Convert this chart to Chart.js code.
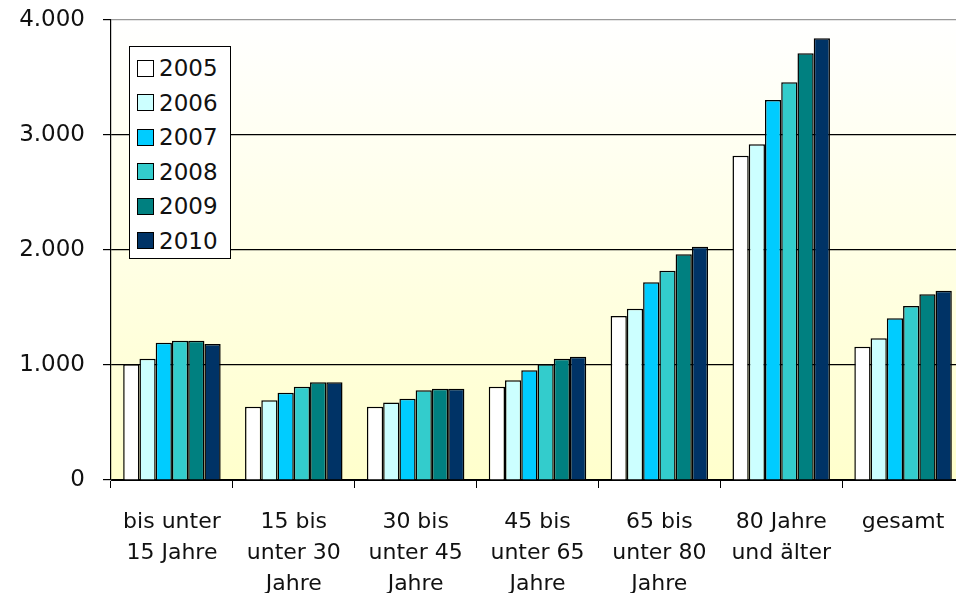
<!DOCTYPE html>
<html>
<head>
<meta charset="utf-8">
<script src="https://cdn.jsdelivr.net/npm/chart.js@4/dist/chart.umd.min.js"></script>
<style>
  body { margin: 0; background: #fff; overflow: hidden; }
  #wrap { position: relative; width: 956px; height: 593px; overflow: hidden; }
  #legend {
    position: absolute; left: 129px; top: 46px; width: 100px;
    background: #fff; border: 1px solid #000; padding: 4px 0 0 0;
    font-family: "DejaVu Sans", sans-serif; font-size: 23px; color: #111;
  }
  #legend .row { height: 34.5px; display: flex; align-items: center; }
  #legend .box { width: 15px; height: 15px; border: 1px solid #000; margin: 0 5px 0 7px; }
</style>
</head>
<body>
<div id="wrap">
  <canvas id="c" width="980" height="593"></canvas>
  <div id="legend"></div>
</div>
<script>
// Altersgruppen (x-Achse)
const categories = [
  ['bis unter', '15 Jahre'],
  ['15 bis', 'unter 30', 'Jahre'],
  ['30 bis', 'unter 45', 'Jahre'],
  ['45 bis', 'unter 65', 'Jahre'],
  ['65 bis', 'unter 80', 'Jahre'],
  ['80 Jahre', 'und älter'],
  ['gesamt']
];
const years = ['2005', '2006', '2007', '2008', '2009', '2010'];
const colors = ['#ffffff', '#ccffff', '#00ccff', '#33cccc', '#008080', '#003366'];

const v2005 = [1006, 637, 637, 811, 1426, 2820, 1159];
const v2006 = [1055, 693, 675, 867, 1490, 2919, 1232];
const v2007 = [1194, 759, 707, 954, 1719, 3304, 1406];
const v2008 = [1211, 811, 780, 1006, 1820, 3458, 1513];
const v2009 = [1211, 849, 794, 1055, 1962, 3710, 1615];
const v2010 = [1183, 849, 794, 1072, 2029, 3841, 1646];
const series = [v2005, v2006, v2007, v2008, v2009, v2010];

const yTicks = [0, 1000, 2000, 3000, 4000];

const FONT = '"DejaVu Sans", sans-serif';

// Hintergrund: weiß -> hellgelb im Diagrammbereich
const bgPlugin = {
  id: 'bg',
  beforeDraw(chart) {
    const { ctx, chartArea: a } = chart;
    ctx.save();
    ctx.fillStyle = '#fff';
    ctx.fillRect(0, 0, chart.width, chart.height);
    const g = ctx.createLinearGradient(0, a.top, 0, a.bottom);
    g.addColorStop(0, '#ffffff');
    g.addColorStop(1, '#ffffcc');
    ctx.fillStyle = g;
    ctx.fillRect(a.left, a.top, a.right - a.left, a.bottom - a.top);
    ctx.restore();
  }
};

const fmt = v => String(v).replace(/\B(?=(\d{3})+(?!\d))/g, '.');

new Chart(document.getElementById('c'), {
  type: 'bar',
  data: {
    labels: categories,
    datasets: years.map((y, i) => ({
      label: y,
      data: series[i],
      backgroundColor: colors[i],
      borderColor: '#000',
      borderWidth: 1.5,
      categoryPercentage: 0.8,
      barPercentage: 1.0
    }))
  },
  options: {
    responsive: false,
    animation: false,
    devicePixelRatio: 1,
    layout: { padding: { top: 20, right: 16, left: 0, bottom: 0 } },
    plugins: { legend: { display: false }, tooltip: { enabled: false } },
    scales: {
      x: {
        grid: { drawOnChartArea: false, drawTicks: true, tickLength: 8, color: '#000', offset: true },
        border: { color: '#000', width: 1 },
        ticks: {
          color: '#111', padding: 19, maxRotation: 0, autoSkip: false,
          font: { family: FONT, size: 22, lineHeight: 1.4 }
        },
        afterFit(s) { s.height = 113; s.paddingLeft = 0; s.paddingRight = 0; }
      },
      y: {
        min: 0, max: 4000,
        afterBuildTicks(s) { s.ticks = yTicks.map(v => ({ value: v })); },
        grid: {
          color: ctx => ctx.tick && ctx.tick.value === 4000 ? '#999' : '#000',
          tickColor: '#000', tickLength: 8, lineWidth: 1.2
        },
        border: { color: '#000', width: 1.2 },
        ticks: {
          color: '#111', padding: 18,
          font: { family: FONT, size: 23 },
          callback: v => fmt(v)
        },
        afterFit(s) { s.width = 111; s.paddingTop = 0; s.paddingBottom = 0; }
      }
    }
  },
  plugins: [bgPlugin]
});

// Legende als HTML
const leg = document.getElementById('legend');
years.forEach((y, i) => {
  leg.innerHTML += `<div class="row"><span class="box" style="background:${colors[i]}"></span>${y}</div>`;
});
</script>
</body>
</html>
